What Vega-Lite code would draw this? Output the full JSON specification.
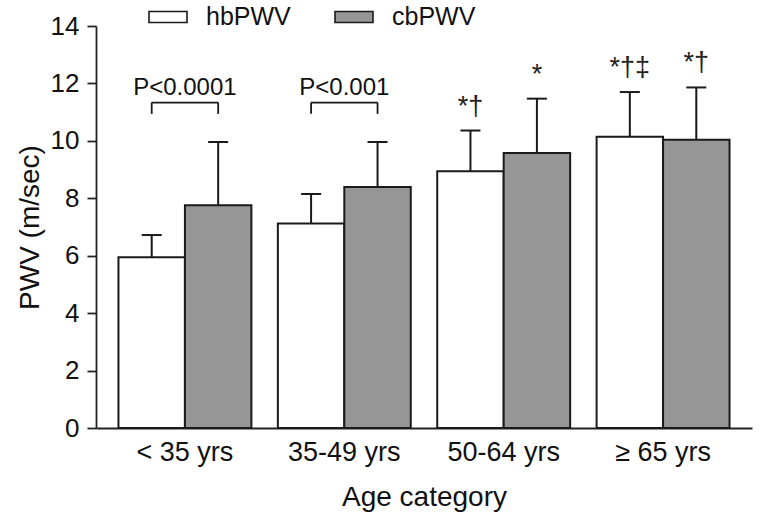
{
  "$schema": "https://vega.github.io/schema/vega-lite/v6.json",
  "width": 656,
  "height": 402,
  "autosize": {"type": "none"},
  "padding": {"left": 96, "top": 26, "right": 8, "bottom": 89},
  "background": "white",
  "config": {
    "view": {"stroke": null},
    "font": "Liberation Sans",
    "axis": {"grid": false, "domainColor": "#222", "domainWidth": 1.8, "tickColor": "#222", "tickWidth": 1.8, "labelColor": "#111", "titleColor": "#111", "titleFontWeight": "normal", "labelFont": "Liberation Sans", "titleFont": "Liberation Sans"}
  },
  "datasets": {
    "bars": [
      {"group": "< 35 yrs", "series": "hbPWV", "mean": 5.95, "upper": 6.72, "sig": ""},
      {"group": "< 35 yrs", "series": "cbPWV", "mean": 7.76, "upper": 9.96, "sig": ""},
      {"group": "35-49 yrs", "series": "hbPWV", "mean": 7.12, "upper": 8.15, "sig": ""},
      {"group": "35-49 yrs", "series": "cbPWV", "mean": 8.39, "upper": 9.96, "sig": ""},
      {"group": "50-64 yrs", "series": "hbPWV", "mean": 8.94, "upper": 10.36, "sig": "*†"},
      {"group": "50-64 yrs", "series": "cbPWV", "mean": 9.58, "upper": 11.47, "sig": "*"},
      {"group": "≥ 65 yrs", "series": "hbPWV", "mean": 10.14, "upper": 11.7, "sig": "*†‡"},
      {"group": "≥ 65 yrs", "series": "cbPWV", "mean": 10.04, "upper": 11.86, "sig": "*†"}
    ],
    "brackets": [
      {"group": "< 35 yrs", "series": "hbPWV", "low": 10.94, "high": 11.33, "label": "P<0.0001"},
      {"group": "< 35 yrs", "series": "cbPWV", "low": 10.94, "high": 11.33, "label": "P<0.0001"},
      {"group": "35-49 yrs", "series": "hbPWV", "low": 10.94, "high": 11.33, "label": "P<0.001"},
      {"group": "35-49 yrs", "series": "cbPWV", "low": 10.94, "high": 11.33, "label": "P<0.001"}
    ]
  },
  "encoding": {
    "x": {
      "field": "group", "type": "nominal",
      "sort": ["< 35 yrs", "35-49 yrs", "50-64 yrs", "≥ 65 yrs"],
      "scale": {"paddingInner": 0.166, "paddingOuter": 0.141},
      "axis": {"title": "Age category", "labelAngle": 0, "ticks": false, "labelFontSize": 27, "labelPadding": 11, "titleFontSize": 28, "titlePadding": 18}
    }
  },
  "layer": [
    {
      "data": {"name": "bars"},
      "mark": {"type": "bar", "stroke": "#1a1a1a", "strokeWidth": 2},
      "encoding": {
        "xOffset": {"field": "series", "type": "nominal", "sort": ["hbPWV", "cbPWV"], "scale": {"paddingInner": 0, "paddingOuter": 0}},
        "y": {
          "field": "mean", "type": "quantitative",
          "scale": {"domain": [0, 14], "nice": false},
          "axis": {"title": "PWV (m/sec)", "values": [0, 2, 4, 6, 8, 10, 12, 14], "tickSize": 9, "labelFontSize": 26, "labelPadding": 8, "titleFontSize": 28, "titlePadding": 6}
        },
        "fill": {
          "field": "series", "type": "nominal",
          "scale": {"domain": ["hbPWV", "cbPWV"], "range": ["white", "#969696"]},
          "legend": {
            "title": null, "orient": "none", "legendX": 52, "legendY": -29,
            "direction": "horizontal", "padding": 0,
            "symbolType": "M-1,-0.29L1,-0.29L1,0.29L-1,0.29Z",
            "symbolSize": 1444, "symbolStrokeColor": "#1a1a1a", "symbolStrokeWidth": 1.6, "symbolOpacity": 1,
            "labelFontSize": 25, "labelColor": "#111", "labelOffset": 18, "columnPadding": 40
          }
        }
      }
    },
    {
      "data": {"name": "bars"},
      "mark": {"type": "rule", "color": "#1a1a1a", "strokeWidth": 2},
      "encoding": {
        "xOffset": {"field": "series", "type": "nominal", "sort": ["hbPWV", "cbPWV"]},
        "y": {"field": "mean", "type": "quantitative"},
        "y2": {"field": "upper"}
      }
    },
    {
      "data": {"name": "bars"},
      "mark": {"type": "tick", "color": "#1a1a1a", "size": 20, "thickness": 2, "orient": "horizontal", "opacity": 1},
      "encoding": {
        "xOffset": {"field": "series", "type": "nominal", "sort": ["hbPWV", "cbPWV"]},
        "y": {"field": "upper", "type": "quantitative"}
      }
    },
    {
      "data": {"name": "bars"},
      "mark": {"type": "text", "fontSize": 27, "color": "#222", "baseline": "alphabetic", "dy": -16, "align": "center"},
      "encoding": {
        "xOffset": {"field": "series", "type": "nominal", "sort": ["hbPWV", "cbPWV"]},
        "y": {"field": "upper", "type": "quantitative"},
        "text": {"field": "sig"}
      }
    },
    {
      "data": {"name": "brackets"},
      "mark": {"type": "rule", "color": "#1a1a1a", "strokeWidth": 1.8},
      "encoding": {
        "xOffset": {"field": "series", "type": "nominal", "sort": ["hbPWV", "cbPWV"]},
        "y": {"field": "low", "type": "quantitative"},
        "y2": {"field": "high"}
      }
    },
    {
      "data": {"name": "brackets"},
      "transform": [{"filter": "datum.series === 'hbPWV'"}],
      "mark": {"type": "tick", "color": "#1a1a1a", "size": 67, "thickness": 1.8, "orient": "horizontal", "opacity": 1},
      "encoding": {
        "y": {"field": "high", "type": "quantitative"}
      }
    },
    {
      "data": {"name": "brackets"},
      "transform": [{"filter": "datum.series === 'hbPWV'"}],
      "mark": {"type": "text", "fontSize": 24, "color": "#111", "baseline": "alphabetic", "dy": -8},
      "encoding": {
        "y": {"field": "high", "type": "quantitative"},
        "text": {"field": "label"}
      }
    }
  ]
}
